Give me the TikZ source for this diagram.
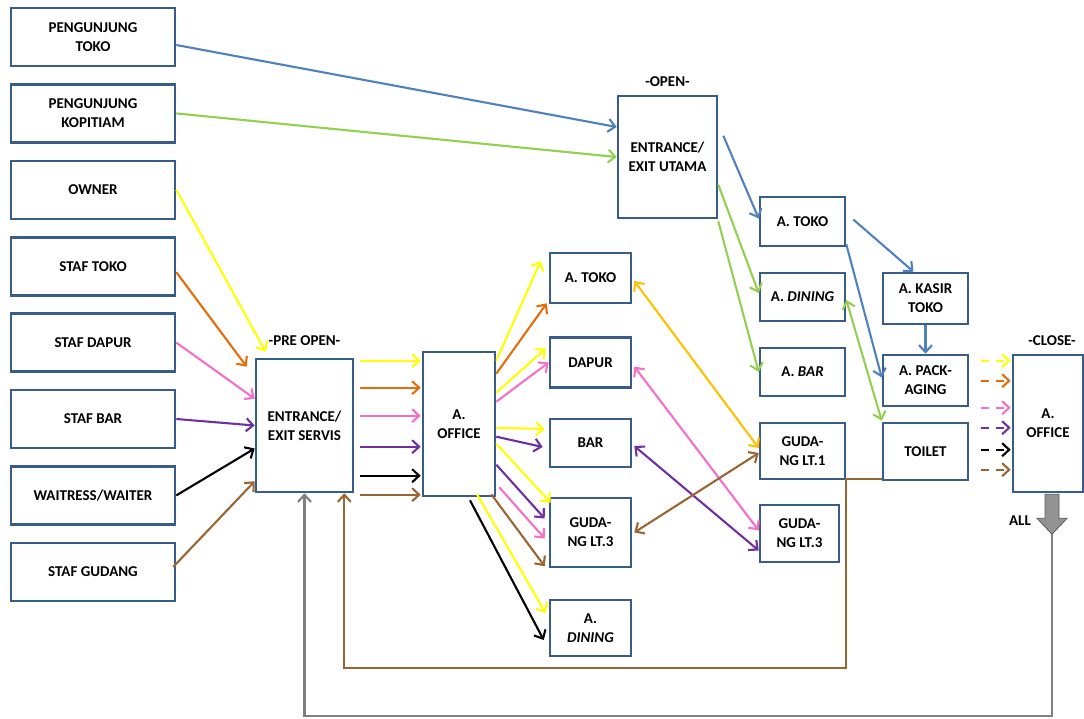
\documentclass[tikz,border=0pt]{standalone}
\usepackage{fontspec}
\setmainfont{Carlito}
\usetikzlibrary{positioning}
\usetikzlibrary{calc}
\usetikzlibrary{arrows.meta}
\definecolor{bborder}{RGB}{56,93,138}
\definecolor{fblue}{RGB}{79,129,189}
\definecolor{fgreen}{RGB}{146,208,80}
\definecolor{fyellow}{RGB}{255,255,0}
\definecolor{forange}{RGB}{228,108,10}
\definecolor{fpink}{RGB}{245,110,200}
\definecolor{fpurple}{RGB}{112,48,160}
\definecolor{fbrown}{RGB}{153,102,51}
\definecolor{fgold}{RGB}{255,192,0}
\definecolor{fgray}{RGB}{128,128,128}

\begin{document}
\begin{tikzpicture}[x=1pt, y=-1pt,
    area/.style={draw=bborder, line width=2.6pt, fill=white, align=center, inner sep=2pt, font=\fontsize{15}{19}\selectfont\bfseries},
    actor/.style={area, minimum width=164pt, minimum height=58pt},
    room/.style={area, minimum width=81pt, minimum height=50pt},
    phase/.style={inner sep=0pt, font=\fontsize{15}{19}\selectfont\bfseries},
    flow/.style={-{Straight Barb[length=7pt,width=13pt]}, line width=2.1pt, draw=#1},
    twoway/.style={flow=#1, {Straight Barb[length=7pt,width=13pt]}-{Straight Barb[length=7pt,width=13pt]}},
    later/.style={flow=#1, dash pattern=on 8pt off 7pt},
    node distance=76.4pt,
]
\useasboundingbox (0,0) rectangle (1084,718);

\node[actor] (ptoko) at (93,37) {PENGUNJUNG\\TOKO};
\node[actor, below of=ptoko] (pkopi) {PENGUNJUNG\\KOPITIAM};
\node[actor, below of=pkopi] (owner) {OWNER};
\node[actor, below of=owner] (stoko) {STAF TOKO};
\node[actor, below of=stoko] (sdapur) {STAF DAPUR};
\node[actor, below of=sdapur] (sbar) {STAF BAR};
\node[actor, below of=sbar] (waiter) {WAITRESS/WAITER};
\node[actor, below of=waiter] (sgudang) {STAF GUDANG};

\node[area, minimum width=97pt, minimum height=133pt] (servis) at (304.5,425.5) {ENTRANCE/\\EXIT SERVIS};
\node[phase, above=12pt of servis] (preopen) {-PRE OPEN-};
\node[area, minimum width=72pt, minimum height=144pt] (office) at (459,424) {A.\\OFFICE};

\node[room] (mtoko) at (590.5,278) {A. TOKO};
\node[room] (dapur) at (590.5,362.5) {DAPUR};
\node[room, minimum height=48pt] (bar) at (590.5,443) {BAR};
\node[room, minimum height=69pt] (gud3) at (590.5,532.5) {GUDA-\\NG LT.3};
\node[room, minimum height=56pt] (mdining) at (590.5,628) {A.\\\textit{DINING}};

\node[area, minimum width=99pt, minimum height=122pt] (utama) at (667.5,157) {ENTRANCE/\\EXIT UTAMA};
\node[phase, above=8pt of utama] (open) {-OPEN-};

\node[room, minimum width=85pt, minimum height=49pt] (rtoko) at (802.5,221.5) {A. TOKO};
\node[room, minimum width=85pt, minimum height=48pt] (rdining) at (802.5,297) {A. \textit{DINING}};
\node[room, minimum width=85pt, minimum height=48pt] (rbar) at (802.5,372) {A. \textit{BAR}};
\node[room, minimum width=85pt, minimum height=56pt] (gud1) at (802.5,451) {GUDA-\\NG LT.1};
\node[room, minimum width=79pt, minimum height=57pt] (gud3b) at (799.5,533.5) {GUDA-\\NG LT.3};

\node[room, minimum width=85pt, minimum height=51pt] (kasir) at (925.5,298.5) {A. KASIR\\TOKO};
\node[room, minimum width=85pt, minimum height=51pt] (packing) at (925.5,380.5) {A. PACK-\\AGING};
\node[room, minimum width=85pt, minimum height=57pt] (toilet) at (925.5,451.5) {TOILET};

\node[area, minimum width=70pt, minimum height=137pt] (close) at (1048,423.5) {A.\\OFFICE};
\node[phase, above=8pt of close, xshift=4pt] (closeLbl) {-CLOSE-};

\draw[flow=fblue] ($(ptoko.east)+(0,8)$) -- ($(utama.west)+(0,-30)$);
\draw[flow=fgreen] (pkopi.east) -- (utama.west);

\draw[flow=fyellow] (owner.east) -- ($(servis.north west)+(11,-6)$);
\draw[flow=forange] ($(stoko.east)+(0,6)$) -- ($(servis.north west)+(-8,9)$);
\draw[flow=fpink] (sdapur.east) -- ($(servis.north west)+(0,41)$);
\draw[flow=fpurple] (sbar.east) -- (servis.west);
\draw[flow=black] (waiter.east) -- ($(servis.west)+(0,23)$);
\draw[flow=fbrown] ($(sgudang.east)+(-3,-5)$) -- ($(servis.south west)+(0,-12)$);

\draw[flow=fyellow] ($(servis.east |- office.north)+(6,10)$) -- ($(office.north west)+(-1,10)$);
\draw[flow=forange] ($(servis.east |- office.north)+(6,37)$) -- ($(office.north west)+(-1,37)$);
\draw[flow=fpink] ($(servis.east |- office.north)+(6,65)$) -- ($(office.north west)+(-1,65)$);
\draw[flow=fpurple] ($(servis.east |- office.north)+(6,96)$) -- ($(office.north west)+(-1,96)$);
\draw[flow=black] ($(servis.east |- office.north)+(6,125)$) -- ($(office.north west)+(-1,125)$);
\draw[flow=fbrown] ($(servis.east |- office.north)+(6,144)$) -- ($(office.north west)+(-1,144)$);

\draw[flow=fyellow] ($(office.north east)+(0,10)$) -- ($(mtoko.west)+(-8,-17)$);
\draw[flow=forange] ($(office.north east)+(0,23)$) -- ($(mtoko.south west)+(-2,-1)$);
\draw[flow=fyellow] ($(office.north east)+(0,42)$) -- ($(dapur.west)+(-3,-14)$);
\draw[flow=fpink] ($(office.north east)+(0,51)$) -- (dapur.west);
\draw[flow=fyellow] ($(office.north east)+(0,77)$) -- ($(bar.west)+(-4,-14)$);
\draw[flow=fpurple] ($(office.north east)+(0,86)$) -- ($(bar.west)+(-6,4)$);
\draw[flow=fyellow] ($(office.north east)+(0,93)$) -- ($(gud3.north west)+(2,6)$);
\draw[flow=fpurple] ($(office.north east)+(0,114)$) -- ($(gud3.west)+(-4,-14)$);
\draw[flow=fpink] ($(office.south east)+(3,-10)$) -- ($(gud3.west)+(-4,6)$);
\draw[flow=fbrown] ($(office.south east)+(-5,-3)$) -- ($(gud3.south west)+(-4,-2)$);
\draw[flow=fyellow] ($(office.south)+(18,-3)$) -- ($(mdining.west)+(-3,-15)$);
\draw[flow=black] ($(office.south)+(11,3)$) -- ($(mdining.west)+(-5,12)$);

\draw[flow=fblue] ($(utama.north east)+(5,41)$) -- ($(rtoko.west)+(0,-3)$);
\draw[flow=fgreen] ($(utama.north east)+(0,90)$) -- ($(rdining.west)+(0,-4)$);
\draw[flow=fgreen] ($(utama.south east)+(0,2)$) -- (rbar.west);

\draw[flow=fblue] ($(rtoko.east)+(7,-2)$) -- ($(kasir.north)+(-12,0)$);
\draw[flow=fblue] ($(rtoko.south east)+(0,-3)$) -- ($(packing.west)+(0,-3)$);
\draw[flow=fblue] (kasir.south) -- (packing.north);
\draw[twoway=fgreen] ($(rdining.east)+(0,3)$) -- ($(toilet.north west)+(0,-1)$);

\draw[twoway=fgold] ($(mtoko.east)+(2,3)$) -- ($(gud1.west)+(0,-3)$);
\draw[twoway=fpink] ($(dapur.east)+(2,4)$) -- ($(gud3b.west)+(0,-3)$);
\draw[twoway=fpurple] ($(bar.east)+(2,3)$) -- ($(gud3b.west)+(0,17)$);
\draw[twoway=fbrown] ($(gud3.east)+(2,0)$) -- ($(gud1.west)+(0,2)$);

\draw[later=fyellow] ($(close.north west)+(-31,7)$) -- ($(close.north west)+(-1,7)$);
\draw[later=forange] ($(close.north west)+(-31,27)$) -- ($(close.north west)+(-1,27)$);
\draw[later=fpink] ($(close.north west)+(-31,54)$) -- ($(close.north west)+(-1,54)$);
\draw[later=fpurple] ($(close.north west)+(-31,74)$) -- ($(close.north west)+(-1,74)$);
\draw[later=black] ($(close.north west)+(-31,96)$) -- ($(close.north west)+(-1,96)$);
\draw[later=fbrown] ($(close.north west)+(-31,116)$) -- ($(close.north west)+(-1,116)$);

\coordinate (allTop) at ($(close.south)+(4,1)$);
\coordinate (allTip) at ($(allTop)+(0,40)$);
\fill[fgray!85, draw=fgray!70!black, line width=0.8pt] ($(allTop)+(-7,0)$) -- ($(allTop)+(-7,24)$) -- ($(allTop)+(-15,24)$) -- (allTip) -- ($(allTop)+(15,24)$) -- ($(allTop)+(7,24)$) -- ($(allTop)+(7,0)$) -- cycle;
\node[phase] (allLbl) at ($(allTop)+(-32,26)$) {ALL};
\draw[flow=fgray] (allTip) -- ++(0,182) -| (servis.south);

\draw[flow=fbrown] ($(toilet.south west)+(0,-2)$) -| ($(gud1.south east)+(0,188)$) -| ($(servis.south east)+(-10,0)$);
\end{tikzpicture}
\end{document}
